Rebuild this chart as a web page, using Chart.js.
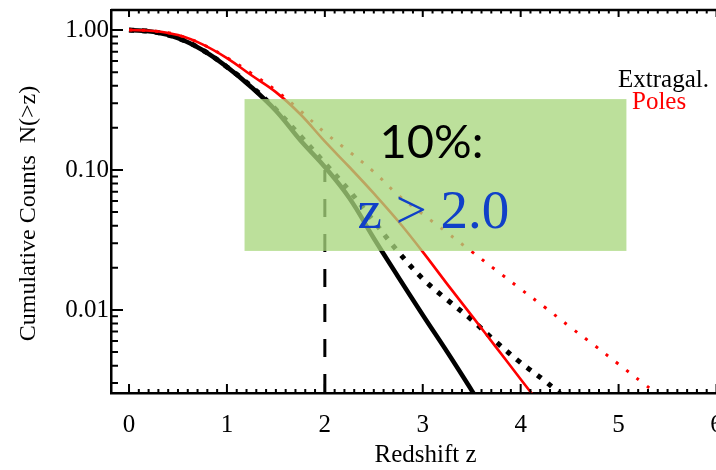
<!DOCTYPE html>
<html><head><meta charset="utf-8">
<script src="https://cdn.jsdelivr.net/npm/chart.js@4/dist/chart.umd.min.js"></script>
<style>
html,body{margin:0;padding:0;overflow:hidden;background:#fff;width:716px;height:470px}
#wrap{width:740px;height:470px}
</style></head>
<body><div id="wrap"><canvas id="c" width="740" height="470"></canvas></div>
<script>
// Redshift grid (z) shared by the four curves
const zGrid = [0, 0.25, 0.5, 0.75, 1, 1.25, 1.5, 1.75, 2, 2.25, 2.5, 2.75, 3, 3.25, 3.5, 3.75, 4, 4.25, 4.5, 4.75, 5, 5.25, 5.5];
// Cumulative counts N(>z)
const extragalSolid  = [1.0, 0.97, 0.875, 0.72, 0.545, 0.39, 0.265, 0.163, 0.105, 0.063, 0.0325, 0.0172, 0.0092, 0.0050, 0.00266, 0.0014];
const extragalDotted = [1.0, 0.97, 0.875, 0.72, 0.545, 0.395, 0.27, 0.175, 0.112, 0.071, 0.043, 0.026, 0.0167, 0.0118, 0.0085, 0.0059, 0.0042, 0.0031, 0.0022];
const polesSolid     = [1.0, 0.985, 0.92, 0.79, 0.63, 0.475, 0.36, 0.25, 0.16, 0.105, 0.068, 0.043, 0.026, 0.0153, 0.0091, 0.0054, 0.0032, 0.0019];
const polesDotted    = [1.0, 0.985, 0.92, 0.79, 0.635, 0.49, 0.37, 0.265, 0.185, 0.135, 0.097, 0.066, 0.0483, 0.0356, 0.0261, 0.0192, 0.0141, 0.0104, 0.0076, 0.0056, 0.0041, 0.0030, 0.0022];
// 10% cut marker
const cutZ = 2.0;
const cutN = [0.1, 0.001];
// highlight box (data units)
const boxZ = [1.18, 5.08];
const boxN = [0.0264, 0.321];
// ticks
const xTickValues = [0, 1, 2, 3, 4, 5, 6];
const yTickValues = [0.01, 0.1, 1];
const yTickLabels = ['0.01', '0.10', '1.00'];

const toPts = arr => arr.map((v, i) => ({x: zGrid[i], y: v}));

const decor = {
  id: 'decor',
  afterDatasetsDraw(chart) {
    const {ctx, scales: {x, y}} = chart;
    ctx.save();
    const x0 = x.getPixelForValue(boxZ[0]), x1 = x.getPixelForValue(boxZ[1]);
    const y0 = y.getPixelForValue(boxN[1]), y1 = y.getPixelForValue(boxN[0]);
    ctx.fillStyle = 'rgba(168,215,125,0.77)';
    ctx.fillRect(x0, y0, x1 - x0, y1 - y0);
    ctx.textBaseline = 'alphabetic';
    ctx.textAlign = 'left';
    ctx.fillStyle = '#000';
    ctx.font = '47px Lato';
    ctx.fillText('10%:', x0 + 135, y0 + 59);
    ctx.fillStyle = '#1040C8';
    ctx.font = '55px "Liberation Serif"';
    ctx.fillText('z > 2.0', x0 + 113, y0 + 129);
    // legend
    ctx.font = '25px "Liberation Serif"';
    ctx.fillStyle = '#000';
    ctx.fillText('Extragal.', 618, 87);
    ctx.fillStyle = '#FF0000';
    ctx.fillText('Poles', 632, 109);
    ctx.restore();
  },
  afterDraw(chart) {
    const {ctx, chartArea: a, scales: {x, y}} = chart;
    ctx.save();
    ctx.strokeStyle = '#000';
    ctx.lineWidth = 2.5;
    ctx.beginPath(); ctx.moveTo(a.left, a.top); ctx.lineTo(a.right, a.top); ctx.stroke();
    ctx.lineWidth = 2;
    ctx.beginPath();
    // x ticks (bottom and top), every 0.1
    for (let i = 0; i <= 62; i++) {
      const v = i / 10;
      const px = x.getPixelForValue(v);
      const major = i % 10 === 0;
      const lb = major ? 9 : 4, lt = major ? 7 : 3.5;
      ctx.moveTo(px, a.bottom); ctx.lineTo(px, a.bottom - lb);
      ctx.moveTo(px, a.top); ctx.lineTo(px, a.top + lt);
    }
    // y ticks (left)
    [0.001, 0.01, 0.1, 1].forEach(d => {
      for (let k = 1; k <= 9; k++) {
        const v = d * k;
        if (v < y.min || v > y.max) continue;
        const py = y.getPixelForValue(v);
        const len = k === 1 ? 12 : 7;
        ctx.moveTo(a.left, py); ctx.lineTo(a.left + len, py);
      }
    });
    ctx.stroke();
    ctx.restore();
  }
};

new Chart(document.getElementById('c'), {
  type: 'line',
  data: {
    datasets: [
      {data: [{x: cutZ, y: cutN[0]}, {x: cutZ, y: cutN[1]}], borderColor: '#000', borderWidth: 3, borderDash: [18, 17], borderDashOffset: 6, pointRadius: 0},
      {data: toPts(polesSolid), borderColor: '#FF0000', borderWidth: 2.6, pointRadius: 0, tension: 0.4},
      {data: toPts(polesDotted), borderColor: '#FF0000', borderWidth: 3, borderDash: [3, 10], pointRadius: 0, tension: 0.4},
      {data: toPts(extragalSolid), borderColor: '#000', borderWidth: 4.5, pointRadius: 0, tension: 0.4},
      {data: toPts(extragalDotted), borderColor: '#000', borderWidth: 5, borderDash: [5, 8], pointRadius: 0, tension: 0.4}
    ]
  },
  options: {
    responsive: false,
    animation: false,
    devicePixelRatio: 1,
    layout: {padding: {top: 10, left: 0, right: 0, bottom: 0}},
    plugins: {legend: {display: false}, tooltip: {enabled: false}},
    scales: {
      x: {
        type: 'linear', min: -0.184, max: 6.24,
        afterBuildTicks: s => { s.ticks = xTickValues.map(v => ({value: v})); },
        ticks: {font: {family: 'Liberation Serif', size: 25}, color: '#000', padding: 17, maxRotation: 0, autoSkip: false, callback: v => String(v)},
        grid: {display: false, drawTicks: false},
        border: {display: true, color: '#000', width: 2.5},
        title: {display: true, text: 'Redshift z', font: {family: 'Liberation Serif', size: 25}, color: '#000', padding: {top: 0, bottom: 0}},
        afterFit: s => { s.height = 77; }
      },
      y: {
        type: 'logarithmic', min: 0.00255, max: 1.39,
        afterBuildTicks: s => { s.ticks = yTickValues.map(v => ({value: v})); },
        ticks: {font: {family: 'Liberation Serif', size: 25, lineHeight: 0.4}, color: '#000', padding: 2, autoSkip: false,
          callback: (v, i) => yTickLabels[i]},
        grid: {display: false, drawTicks: false},
        border: {display: true, color: '#000', width: 2.5},
        title: {display: true, text: 'Cumulative Counts  N(>z)    ', font: {family: 'Liberation Serif', size: 24}, color: '#000', padding: {top: 14, bottom: 0}},
        afterFit: s => { s.width = 111; }
      }
    }
  },
  plugins: [decor]
});
</script>
</body></html>
